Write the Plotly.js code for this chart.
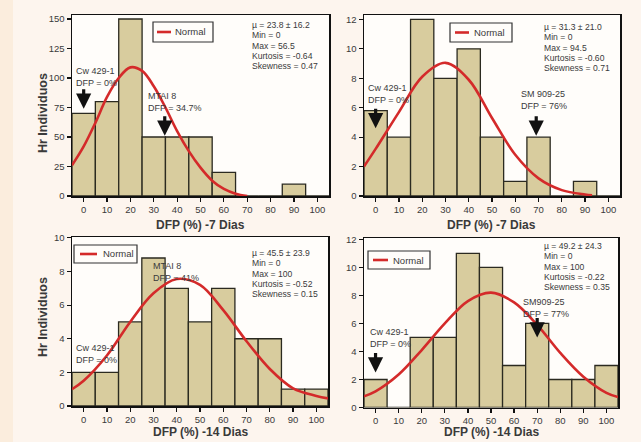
<!DOCTYPE html>
<html>
<head>
<meta charset="utf-8">
<script src="https://cdn.plot.ly/plotly-3.0.1.min.js"></script>
<style>html,body{margin:0;padding:0;background:#fdf5ee;}#chart{width:641px;height:442px;}</style>
</head>
<body>
<div id="chart"></div>
<script>
// ---- data ----
var binCenters = [0, 10, 20, 30, 40, 50, 60, 70, 80, 90, 100];
var xTicks = [0, 10, 20, 30, 40, 50, 60, 70, 80, 90, 100];

// Top-left: population 1, 7 days
var counts1 = [70, 80, 150, 50, 50, 50, 20, 0, 0, 10, 0];
var curve1X = [-5, 0, 5, 10, 15, 20, 25, 30, 35, 40, 45, 50, 55, 60, 65, 70];
var curve1Y = [26, 42, 62, 84, 100, 109, 106, 93, 75, 55, 38, 24, 13, 6, 2, 0];
var stats1 = ["\u00b5 = 23.8 \u00b1 16.2", "Min = 0", "Max = 56.5", "Kurtosis = -0.64", "Skewness = 0.47"];

// Top-right: population 2, 7 days
var counts2 = [5.8, 4, 12, 8, 10, 4, 1, 4, 0, 1, 0];
var curve2X = [-5, 0, 10, 20, 30, 40, 50, 60, 70, 80, 90, 93];
var curve2Y = [2, 3.2, 5.7, 8.1, 9.05, 7.9, 5.3, 2.8, 1.2, 0.4, 0.1, 0.05];
var stats2 = ["\u00b5 = 31.3 \u00b1 21.0", "Min = 0", "Max = 94.5", "Kurtosis = -0.60", "Skewness = 0.71"];

// Bottom-left: population 1, 14 days
var counts3 = [2, 2, 5, 8.8, 7, 5, 7, 4, 4, 1, 1];
var curve3X = [-5, 0, 10, 20, 30, 40, 50, 60, 70, 80, 90, 100, 105];
var curve3Y = [1.0, 1.5, 3.0, 5.0, 6.7, 7.55, 7.2, 5.7, 3.85, 2.2, 1.05, 0.6, 0.45];
var stats3 = ["\u00b5 = 45.5 \u00b1 23.9", "Min = 0", "Max = 100", "Kurtosis = -0.52", "Skewness = 0.15"];

// Bottom-right: population 2, 14 days
var counts4 = [2, 0, 5, 5, 11, 10, 3, 6, 2, 2, 3];
var curve4X = [-5, 0, 10, 20, 30, 40, 50, 60, 70, 80, 90, 100, 105];
var curve4Y = [0.8, 1.15, 2.35, 4.1, 6.0, 7.6, 8.2, 7.5, 5.9, 3.9, 2.2, 1.05, 0.75];
var stats4 = ["\u00b5 = 49.2 \u00b1 24.3", "Min = 0", "Max = 100", "Kurtosis = -0.22", "Skewness = 0.35"];

var xTitleTop = "DFP (%) -7 Dias";
var xTitleBottom = "DFP (%) -14 Dias";
var yTitle = "Hr Individuos";
var legendLabel = "Normal";

// markers: [panel, x, y(tip), label]
var markers = [
  [1, 0, 74, "Cw 429-1<br>DFP = 0%"],
  [1, 34.7, 51, "MTAI 8<br>DFP = 34.7%"],
  [2, 0, 4.6, "Cw 429-1<br>DFP = 0%"],
  [2, 69, 4.1, "SM 909-25<br>DFP = 76%"],
  [4, 0, 2.5, "Cw 429-1<br>DFP = 0%"],
  [4, 70, 5.0, "SM909-25<br>DFP = 77%"]
];

// ---- styling / layout helpers ----
var W = 641, H = 442;
function px(x){ return x / W; }
function py(y){ return 1 - y / H; }
var BAR = '#d8cc9e', EDGE = '#2b2a20', RED = '#d42a2a', TXT = '#3a3a3a';
var FONT = 'Liberation Sans, Arial, sans-serif';

// panel boxes in pixels: [left, right, top, bottom]
var boxes = {
  1: [72, 329, 15, 196],
  2: [364, 620, 15, 196],
  3: [72, 328, 237, 406],
  4: [364, 618, 238, 407.5]
};
var yRanges = {1: [0, 153.4], 2: [0, 12.3], 3: [0, 10.05], 4: [0, 12.1]};
var yDtick = {1: 25, 2: 2, 3: 2, 4: 2};

var countsAll = {1: counts1, 2: counts2, 3: counts3, 4: counts4};
var curvesAll = {1: [curve1X, curve1Y], 2: [curve2X, curve2Y], 3: [curve3X, curve3Y], 4: [curve4X, curve4Y]};
var statsAll = {1: stats1, 2: stats2, 3: stats3, 4: stats4};

var traces = [];
var layout = {
  width: W, height: H,
  margin: {l: 0, r: 0, t: 0, b: 0},
  paper_bgcolor: '#fdf5ee',
  plot_bgcolor: '#fffdfa',
  showlegend: false,
  bargap: 0,
  font: {family: FONT, color: TXT, size: 9},
  annotations: [],
  shapes: []
};

[1, 2, 3, 4].forEach(function(p){
  var sfx = p === 1 ? '' : String(p);
  var xa = 'x' + sfx, ya = 'y' + sfx;
  var b = boxes[p];
  traces.push({
    type: 'bar', x: binCenters, y: countsAll[p], width: 10,
    xaxis: xa, yaxis: ya,
    marker: {color: BAR, line: {color: EDGE, width: 1.3}},
    hoverinfo: 'skip'
  });
  traces.push({
    type: 'scatter', mode: 'lines', x: curvesAll[p][0], y: curvesAll[p][1],
    xaxis: xa, yaxis: ya,
    line: {color: RED, width: 2.6, shape: 'spline', smoothing: 1},
    hoverinfo: 'skip', cliponaxis: true
  });
  var axBase = {
    showline: true, mirror: true, linecolor: '#111', linewidth: 1.5,
    ticks: 'outside', ticklen: 4, tickwidth: 1.2, tickcolor: '#111',
    showgrid: false, zeroline: false,
    tickfont: {family: FONT, size: 9.5, color: TXT}, fixedrange: true
  };
  layout['xaxis' + sfx] = Object.assign({}, axBase, {
    domain: [px(b[0]), px(b[1])], range: [-5, 105],
    tickvals: xTicks, anchor: ya
  });
  layout['yaxis' + sfx] = Object.assign({}, axBase, {
    domain: [py(b[3]), py(b[2])], range: yRanges[p],
    dtick: yDtick[p], tick0: 0, anchor: xa
  });
});

// stats text
var statsPos = {1: [250, 25], 2: [542, 27], 3: [250, 253], 4: [542, 246]};
[1, 2, 3, 4].forEach(function(p){
  statsAll[p].forEach(function(s, i){
    layout.annotations.push({
      xref: 'paper', yref: 'paper', x: px(statsPos[p][0]), y: py(statsPos[p][1] + i * 10.3),
      xanchor: 'left', yanchor: 'middle', showarrow: false, text: s,
      font: {family: FONT, size: 8.6, color: TXT}
    });
  });
});

// legend boxes: [left, right, top, bottom, lineStart, lineEnd, textX]
var legs = {
  1: [153, 213, 22, 42, 157, 171, 173],
  2: [450, 512, 23, 42, 455, 469, 472],
  3: [74, 137, 245, 263, 80, 97, 101],
  4: [368, 430, 251, 269, 373, 388, 391]
};
[1, 2, 3, 4].forEach(function(p){
  var g = legs[p];
  var cy = (g[2] + g[3]) / 2;
  layout.shapes.push({type: 'rect', xref: 'paper', yref: 'paper',
    x0: px(g[0]), x1: px(g[1]), y0: py(g[3]), y1: py(g[2]),
    line: {color: '#333', width: 1.2}, fillcolor: 'rgba(0,0,0,0)'});
  layout.shapes.push({type: 'line', xref: 'paper', yref: 'paper',
    x0: px(g[4]), x1: px(g[5]), y0: py(cy), y1: py(cy),
    line: {color: RED, width: 2.6}});
  layout.annotations.push({xref: 'paper', yref: 'paper', x: px(g[6]), y: py(cy),
    xanchor: 'left', yanchor: 'middle', showarrow: false, text: legendLabel,
    font: {family: FONT, size: 9.5, color: TXT}});
});

// marker arrows and labels
var labelOffsets = {
  '1-0': [74, 77], '1-34.7': [146, 102],
  '2-0': [366, 94], '2-69': [519, 100],
  '4-0': [368, 338], '4-70': [521, 308]
};
markers.forEach(function(m){
  var sfx = m[0] === 1 ? '' : String(m[0]);
  layout.annotations.push({
    xref: 'x' + sfx, yref: 'y' + sfx, x: m[1], y: m[2],
    ax: 0, ay: -21, showarrow: true, arrowhead: 2, arrowsize: 0.95,
    arrowwidth: 3.2, arrowcolor: '#111', text: ''
  });
  var lo = labelOffsets[m[0] + '-' + m[1]];
  layout.annotations.push({
    xref: 'paper', yref: 'paper', x: px(lo[0]), y: py(lo[1]),
    xanchor: 'left', yanchor: 'middle', showarrow: false, align: 'left',
    text: m[3], font: {family: FONT, size: 9, color: TXT}
  });
});

// extra labels in bottom-left panel (arrows hidden there)
layout.annotations.push({xref: 'paper', yref: 'paper', x: px(151), y: py(271.5),
  xanchor: 'left', yanchor: 'middle', showarrow: false, align: 'left',
  text: 'MTAI 8<br>DFP = 41%', font: {family: FONT, size: 9, color: TXT}});
layout.annotations.push({xref: 'paper', yref: 'paper', x: px(74), y: py(354),
  xanchor: 'left', yanchor: 'middle', showarrow: false, align: 'left',
  text: 'Cw 429-1<br>DFP = 0%', font: {family: FONT, size: 9, color: TXT}});

// axis titles
[[200, 225, xTitleTop], [491, 225, xTitleTop], [200, 432, xTitleBottom], [491, 432, xTitleBottom]].forEach(function(t){
  layout.annotations.push({xref: 'paper', yref: 'paper', x: px(t[0]), y: py(t[1]),
    xanchor: 'center', yanchor: 'middle', showarrow: false, text: '<b>' + t[2] + '</b>',
    font: {family: FONT, size: 12, color: TXT}});
});
[[43, 113], [43, 317]].forEach(function(t){
  layout.annotations.push({xref: 'paper', yref: 'paper', x: px(t[0]), y: py(t[1]),
    xanchor: 'center', yanchor: 'middle', showarrow: false, textangle: -90,
    text: '<b>' + yTitle + '</b>', font: {family: FONT, size: 12.5, color: TXT}});
});

// left darker strip of the page background
layout.shapes.push({type: 'rect', xref: 'paper', yref: 'paper', layer: 'below',
  x0: 0, x1: px(13), y0: 0, y1: 1, line: {width: 0}, fillcolor: '#fbeddd'});

Plotly.newPlot('chart', traces, layout, {displayModeBar: false, staticPlot: true});
</script>
</body>
</html>
